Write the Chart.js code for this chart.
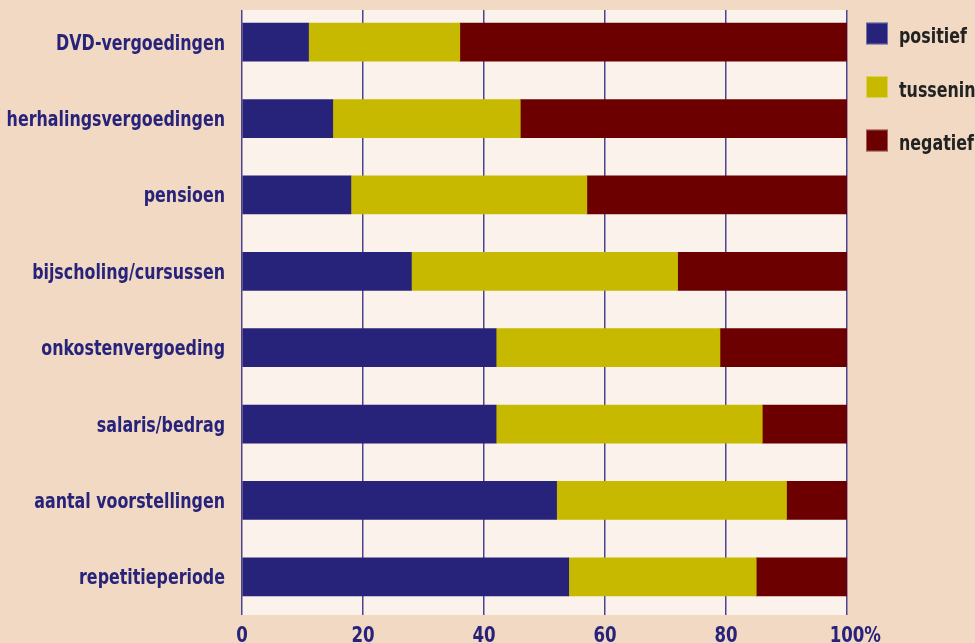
<!DOCTYPE html>
<html>
<head>
<meta charset="utf-8">
<script src="https://cdn.jsdelivr.net/npm/chart.js@4"></script>
<style>
  html, body { margin: 0; padding: 0; background: #f2d9c3; overflow: hidden; }
  #wrap { width: 975px; height: 643px; }
</style>
</head>
<body>
<div id="wrap"><canvas id="chart" width="975" height="643"></canvas></div>
<script>
// categories, top to bottom
const categories = [
  "DVD-vergoedingen",
  "herhalingsvergoedingen",
  "pensioen",
  "bijscholing/cursussen",
  "onkostenvergoeding",
  "salaris/bedrag",
  "aantal voorstellingen",
  "repetitieperiode"
];
const positief = [11, 15, 18, 28, 42, 42, 52, 54];
const tussenin = [25, 31, 39, 44, 37, 44, 38, 31];
const negatief = [64, 54, 43, 28, 21, 14, 10, 15];
const xTicks = [0, 20, 40, 60, 80, 100];

const FONT = "'DejaVu Sans Condensed', 'DejaVu Sans', sans-serif";
const NAVY = "#27237a";
const PEACH = "#f2d9c3";
const SQUEEZE = 0.84; // the original uses a narrow bold face

function narrowText(ctx, text, x, y, align) {
  ctx.save();
  ctx.translate(x, y);
  ctx.scale(SQUEEZE, 1);
  ctx.textAlign = align;
  ctx.fillText(text, 0, 0);
  ctx.restore();
}

// background: peach outside, light inside plot area
const backgroundPlugin = {
  id: "bg",
  beforeDraw(chart) {
    const { ctx, chartArea } = chart;
    ctx.save();
    ctx.fillStyle = PEACH;
    ctx.fillRect(0, 0, chart.width, chart.height);
    ctx.fillStyle = "#fbf2ec";
    ctx.fillRect(chartArea.left, 10,
      chartArea.right - chartArea.left, chartArea.bottom - 10);
    ctx.restore();
  },
  beforeDatasetsDraw(chart) {
    // grid starts a little below the top of the chart area
    const { ctx, chartArea } = chart;
    ctx.save();
    ctx.fillStyle = PEACH;
    ctx.fillRect(chartArea.left - 3, 0, chartArea.right - chartArea.left + 6, 10);
    ctx.restore();
  }
};

// axis labels and legend, in a squeezed bold face
const labelsPlugin = {
  id: "labels",
  afterDraw(chart) {
    const { ctx, chartArea, scales } = chart;
    ctx.save();
    ctx.font = "bold 21px " + FONT;
    ctx.textBaseline = "alphabetic";

    // category labels
    ctx.fillStyle = NAVY;
    chart.data.labels.forEach((lab, i) => {
      const y = scales.y.getPixelForTick(i);
      narrowText(ctx, lab, chartArea.left - 17, y + 7.5, "right");
    });

    // value labels
    ctx.font = "bold 22px " + FONT;
    xTicks.forEach((v) => {
      const x = scales.x.getPixelForValue(v);
      narrowText(ctx, String(v), x, 642, "center");
      if (v === 100) {
        const w = ctx.measureText(String(v)).width * SQUEEZE;
        narrowText(ctx, "%", x + w / 2, 642, "left");
      }
    });

    // legend
    ctx.font = "bold 21px " + FONT;
    const lx = chartArea.right + 19;
    chart.data.datasets.forEach((ds, i) => {
      const y = 33.5 + i * 53.5;
      ctx.fillStyle = ds.backgroundColor;
      ctx.fillRect(lx, y - 11, 22, 22);
      ctx.strokeStyle = "rgba(255,255,255,0.35)";
      ctx.lineWidth = 1;
      ctx.strokeRect(lx + 0.5, y - 10.5, 21, 21);
      ctx.fillStyle = "#222222";
      narrowText(ctx, ds.label, lx + 33, y + 9.5, "left");
    });
    ctx.restore();
  }
};

const ctx = document.getElementById("chart").getContext("2d");
new Chart(ctx, {
  type: "bar",
  data: {
    labels: categories,
    datasets: [
      { label: "positief", data: positief, backgroundColor: NAVY },
      { label: "tussenin", data: tussenin, backgroundColor: "#c6b900" },
      { label: "negatief", data: negatief, backgroundColor: "#6c0000" }
    ]
  },
  options: {
    indexAxis: "y",
    responsive: false,
    animation: false,
    layout: { padding: { top: 4, right: 128, left: 0, bottom: 0 } },
    datasets: {
      bar: { barThickness: 38, borderWidth: 0 }
    },
    plugins: {
      legend: { display: false },
      tooltip: { enabled: false }
    },
    scales: {
      x: {
        stacked: true,
        min: 0,
        max: 100,
        afterBuildTicks(axis) {
          axis.ticks = xTicks.map((v) => ({ value: v }));
        },
        afterFit(axis) {
          axis.height = 28;
        },
        grid: {
          color: "#4a4592",
          lineWidth: 1.5,
          drawTicks: false
        },
        border: { display: false },
        ticks: { display: false }
      },
      y: {
        stacked: true,
        afterFit(axis) {
          axis.width = 242;
        },
        grid: { display: false, drawTicks: false },
        border: { display: false },
        ticks: { display: false }
      }
    }
  },
  plugins: [backgroundPlugin, labelsPlugin]
});
</script>
</body>
</html>
